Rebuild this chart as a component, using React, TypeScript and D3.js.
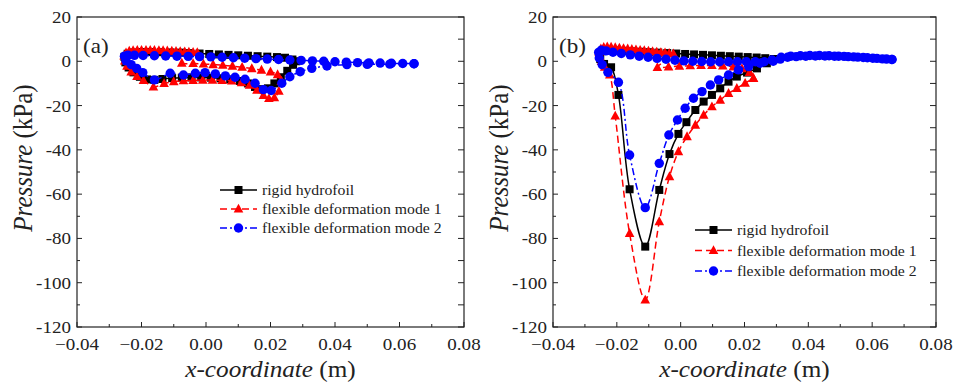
import React from 'react';
import * as d3 from 'd3';

type Pt = [number, number];

// each series runs round the foil: upper surface from the trailing edge to the
// leading edge, then the lower surface back to the trailing edge  [x (m), p (kPa)]

// ---- panel (a)
const rigidA: Pt[] = [
  [0.0268, 0.8], [0.0245, 1.6], [0.022, 1.9], [0.019, 2.1], [0.016, 2.3], [0.013, 2.5], [0.010, 2.7],
  [0.007, 2.9], [0.004, 3.1], [0.001, 3.3], [-0.002, 3.5], [-0.005, 3.7], [-0.008, 3.9], [-0.011, 4.0],
  [-0.014, 4.1], [-0.017, 4.2], [-0.020, 4.2], [-0.0225, 4.0], [-0.0243, 3.4], [-0.0253, 2.0],
  [-0.0250, -0.5], [-0.0240, -2.8], [-0.0225, -5.0], [-0.0205, -7.0], [-0.0183, -8.2], [-0.0160, -8.4],
  [-0.0135, -8.0], [-0.0105, -7.6], [-0.0075, -7.4], [-0.0045, -7.3], [-0.0015, -7.3], [0.0015, -7.4],
  [0.0045, -7.7], [0.0075, -8.2], [0.0105, -8.9], [0.0130, -10.0], [0.0152, -11.6], [0.0172, -12.6],
  [0.0192, -12.2], [0.0212, -10.0], [0.0232, -7.2], [0.0252, -4.3], [0.0270, -1.6], [0.0280, 0.0],
];

const mode1A: Pt[] = [
  [0.0234, -9.0], [0.0222, -6.0], [0.0200, -4.8], [0.0172, -4.0], [0.0142, -3.3], [0.0112, -2.7],
  [0.0082, -2.2], [0.0052, -1.8], [0.0022, -1.5], [-0.0008, -1.2], [-0.0040, -1.0], [-0.0075, -0.8],
  [-0.0027, 4.0], [-0.0040, 4.1], [-0.0053, 4.2], [-0.0066, 4.3], [-0.0080, 4.4], [-0.0093, 4.5],
  [-0.0106, 4.6], [-0.0120, 4.7], [-0.0133, 4.8], [-0.0146, 4.9], [-0.0160, 5.0], [-0.0173, 5.0],
  [-0.0186, 5.0], [-0.0200, 5.0], [-0.0213, 5.0], [-0.0226, 4.9], [-0.0238, 4.6], [-0.0248, 3.8],
  [-0.0254, 2.4],
  [-0.0252, 0.2], [-0.0245, -2.2], [-0.0232, -4.8], [-0.0214, -6.8], [-0.0194, -8.6], [-0.0163, -11.6],
  [-0.0130, -10.0], [-0.0100, -9.2], [-0.0070, -8.8], [-0.0040, -8.6], [-0.0010, -8.5], [0.0020, -8.5],
  [0.0050, -8.6], [0.0080, -8.9], [0.0110, -9.6], [0.0135, -10.8], [0.0158, -13.0], [0.0178, -15.4],
  [0.0195, -16.8], [0.0212, -16.4], [0.0226, -13.5], [0.0234, -9.0],
];

const mode2A: Pt[] = [
  [0.0645, -1.1], [0.0610, -1.0], [0.0575, -0.9], [0.0540, -0.8], [0.0505, -0.7], [0.0470, -0.6],
  [0.0435, -0.4], [0.0400, -0.2], [0.0365, 0.0], [0.0330, 0.2], [0.0295, 0.4], [0.0260, 0.6],
  [0.0225, 0.8], [0.0190, 1.0], [0.0155, 1.2], [0.0120, 1.4], [0.0085, 1.6], [0.0050, 1.8],
  [0.0015, 2.0], [-0.0020, 2.1], [-0.0055, 2.2], [-0.0090, 2.3], [-0.0125, 2.4], [-0.0160, 2.5],
  [-0.0195, 2.6], [-0.0222, 2.7], [-0.0242, 2.8], [-0.0253, 2.3],
  [-0.0248, 0.2], [-0.0232, -1.5], [-0.0215, -3.2], [-0.0196, -5.1], [-0.0160, -8.4], [-0.0111, -5.4],
  [-0.0070, -6.2], [-0.0033, -5.4], [-0.0003, -5.1], [0.0029, -5.7], [0.0060, -6.6], [0.0090, -7.2],
  [0.0121, -8.1], [0.0152, -9.9], [0.0178, -12.8], [0.0202, -13.2], [0.0235, -9.9], [0.0260, -7.0],
  [0.0292, -4.7], [0.0328, -3.2], [0.0375, -2.1], [0.0437, -1.5], [0.0500, -1.4], [0.0570, -1.3],
  [0.0645, -1.1],
];

// ---- panel (b)
const rigidB: Pt[] = [
  [0.0292, 1.0], [0.0265, 1.4], [0.0238, 1.7], [0.0210, 1.9], [0.0182, 2.1], [0.0154, 2.3], [0.0126, 2.5],
  [0.0098, 2.7], [0.0070, 2.9], [0.0042, 3.1], [0.0014, 3.3], [-0.0014, 3.5], [-0.0042, 3.7], [-0.0070, 3.9],
  [-0.0098, 4.1], [-0.0126, 4.3], [-0.0154, 4.5], [-0.0182, 4.7], [-0.0208, 4.9], [-0.0230, 5.0],
  [-0.0246, 4.6], [-0.0255, 3.2],
  [-0.0252, 1.0], [-0.0240, -1.2], [-0.0218, -2.7], [-0.0195, -15.2], [-0.0160, -57.8], [-0.0111, -83.7],
  [-0.0067, -58.1], [-0.0035, -41.9], [-0.0007, -32.8], [0.0018, -27.5], [0.0046, -22.0], [0.0072, -18.2],
  [0.0098, -15.2], [0.0124, -12.2], [0.0150, -9.2], [0.0176, -6.9], [0.0208, -5.1], [0.0239, -3.2],
  [0.0270, -0.9], [0.0292, 1.0],
];

const mode1B: Pt[] = [
  [0.0228, -7.7], [0.0216, -5.0], [0.0192, -3.3], [0.0165, -2.5], [0.0132, -2.1], [0.0098, -1.9],
  [0.0064, -1.9], [0.0030, -2.0], [-0.0004, -2.2], [-0.0038, -2.5], [-0.0073, -2.8],
  [-0.0023, 3.4], [-0.0036, 3.6], [-0.0049, 3.8], [-0.0062, 4.0], [-0.0075, 4.2], [-0.0088, 4.4],
  [-0.0101, 4.6], [-0.0114, 4.8], [-0.0127, 5.0], [-0.0140, 5.2], [-0.0153, 5.4], [-0.0166, 5.6],
  [-0.0179, 5.8], [-0.0192, 6.0], [-0.0205, 6.2], [-0.0218, 6.4], [-0.0230, 6.5], [-0.0241, 6.3],
  [-0.0250, 5.6], [-0.0256, 4.2],
  [-0.0254, 2.2], [-0.0248, 0.0], [-0.0238, -2.6], [-0.0222, -6.2], [-0.0205, -24.7], [-0.0160, -77.7],
  [-0.0111, -107.8], [-0.0067, -72.4], [-0.0035, -52.1], [-0.0007, -40.8], [0.0020, -34.0],
  [0.0046, -28.8], [0.0072, -24.3], [0.0098, -20.5], [0.0124, -17.5], [0.0150, -14.5], [0.0176, -12.2],
  [0.0202, -9.9], [0.0228, -7.7],
];

const mode2B: Pt[] = [
  [0.0662, 0.8], [0.0632, 1.1], [0.0602, 1.4], [0.0572, 1.7], [0.0542, 2.0], [0.0512, 2.2], [0.0482, 2.3],
  [0.0452, 2.4], [0.0422, 2.4], [0.0392, 2.3], [0.0362, 2.1], [0.0335, 1.8], [0.0312, 1.0], [0.0290, 0.0],
  [0.0262, -0.2], [0.0234, -0.2], [0.0206, -0.2], [0.0178, -0.2], [0.0150, -0.2], [0.0122, -0.2],
  [0.0094, -0.2], [0.0066, -0.1], [0.0038, 0.0], [0.0010, 0.2], [-0.0018, 0.5], [-0.0046, 0.9],
  [-0.0074, 1.3], [-0.0102, 1.8], [-0.0130, 2.3], [-0.0158, 2.9], [-0.0186, 3.5], [-0.0212, 4.1],
  [-0.0234, 4.7], [-0.0249, 5.0], [-0.0257, 4.0],
  [-0.0255, 1.5], [-0.0246, -1.5], [-0.0228, -5.0], [-0.0195, -9.5], [-0.0160, -42.3], [-0.0111, -66.1],
  [-0.0067, -46.1], [-0.0037, -33.3], [-0.0010, -26.5], [0.0014, -21.2], [0.0040, -16.7], [0.0067, -13.7],
  [0.0093, -10.7], [0.0119, -8.4], [0.0150, -6.2], [0.0181, -3.9], [0.0213, -2.4], [0.0249, -0.9],
  [0.0286, 0.6], [0.0315, 1.8], [0.0345, 2.3], [0.0375, 2.5], [0.0405, 2.6], [0.0435, 2.6], [0.0465, 2.5],
  [0.0495, 2.3], [0.0525, 2.1], [0.0555, 1.9], [0.0585, 1.6], [0.0615, 1.3], [0.0645, 1.0], [0.0662, 0.8],
];

const seriesNames = ['rigid hydrofoil', 'flexible deformation mode 1', 'flexible deformation mode 2'];
const xTicks = [-0.04, -0.02, 0, 0.02, 0.04, 0.06, 0.08];
const xMinor = [-0.03, -0.01, 0.01, 0.03, 0.05, 0.07];
const yTicks = [20, 0, -20, -40, -60, -80, -100, -120];
const yMinor = [10, -10, -30, -50, -70, -90, -110];

const W = 954;
const H = 383;
const TOP = 17;
const BOTTOM = 327;
const FONT = 'Liberation Serif, Tinos, Times New Roman, serif';
const INK = '#222';

const styles = [
  { color: '#000', dash: undefined as string | undefined, marker: 'square' },
  { color: '#ff0000', dash: '7 4', marker: 'triangle' },
  { color: '#0000ff', dash: '7 3 2 3', marker: 'circle' },
];

function Marker({ kind, x, y, color }: { kind: string; x: number; y: number; color: string }) {
  if (kind === 'square') return <rect x={x - 4} y={y - 4} width={8} height={8} fill={color} />;
  if (kind === 'triangle')
    return <path d={`M${x},${y - 5.3}L${x + 4.8},${y + 3.6}L${x - 4.8},${y + 3.6}Z`} fill={color} />;
  return <circle cx={x} cy={y} r={4.7} fill={color} />;
}

function Panel({ left, right, label, series, legend }: {
  left: number; right: number; label: string; series: Pt[][];
  legend: { x: number; y: number; gap: number };
}) {
  const x = d3.scaleLinear().domain([-0.04, 0.08]).range([left, right]);
  const y = d3.scaleLinear().domain([-120, 20]).range([BOTTOM, TOP]);
  const line = d3.line<Pt>().x(d => x(d[0])).y(d => y(d[1])).curve(d3.curveCatmullRom.alpha(0.5));
  const mid = (left + right) / 2;
  const txt = { fontFamily: FONT };

  return (
    <g>
      {series.map((pts, i) => (
        <g key={i}>
          <path d={line(pts) ?? ''} fill="none" stroke={styles[i].color} strokeWidth={1.5}
            strokeDasharray={styles[i].dash} />
          {pts.map((p, j) => (
            <Marker key={j} kind={styles[i].marker} x={x(p[0])} y={y(p[1])} color={styles[i].color} />
          ))}
        </g>
      ))}

      {/* frame */}
      <rect x={left} y={TOP} width={right - left} height={BOTTOM - TOP} fill="none" stroke={INK} strokeWidth={1.2} />
      {xTicks.map(t => <line key={'xt' + t} x1={x(t)} x2={x(t)} y1={BOTTOM} y2={BOTTOM - 5} stroke={INK} />)}
      {xMinor.map(t => <line key={'xm' + t} x1={x(t)} x2={x(t)} y1={BOTTOM} y2={BOTTOM - 3} stroke={INK} />)}
      {yTicks.map(t => (
        <g key={'yt' + t}>
          <line x1={left} x2={left + 5} y1={y(t)} y2={y(t)} stroke={INK} />
          <line x1={right} x2={right - 6} y1={y(t)} y2={y(t)} stroke={INK} />
        </g>
      ))}
      {yMinor.map(t => (
        <g key={'ym' + t}>
          <line x1={left} x2={left + 3} y1={y(t)} y2={y(t)} stroke={INK} />
          <line x1={right} x2={right - 6} y1={y(t)} y2={y(t)} stroke={INK} />
        </g>
      ))}

      {/* tick labels */}
      {xTicks.map(t => (
        <text key={'xl' + t} transform={`translate(${x(t)},350) scale(1.12,1)`} textAnchor="middle"
          fontSize={17} style={txt} fill={INK}>{d3.format('.2f')(t)}</text>
      ))}
      {yTicks.map(t => (
        <text key={'yl' + t} transform={`translate(${left - 6},${y(t) + 6}) scale(1.12,1)`} textAnchor="end"
          fontSize={17} style={txt} fill={INK}>{t}</text>
      ))}

      {/* axis titles */}
      <text transform={`translate(${mid},377) scale(1.05,1)`} textAnchor="middle" fontSize={24} style={txt} fill={INK}>
        <tspan fontStyle="italic">x-coordinate</tspan> (m)
      </text>
      <text transform={`translate(${left - 45},158) scale(1.08,1) rotate(-90)`} textAnchor="middle" fontSize={25}
        style={txt} fill={INK}>
        <tspan fontStyle="italic">Pressure</tspan> (kPa)
      </text>

      <text transform={`translate(${left + 6},53) scale(1.1,1)`} fontSize={21} style={txt} fill={INK}>{label}</text>

      {/* legend */}
      {seriesNames.map((name, i) => {
        const ly = legend.y + i * legend.gap;
        const cx = legend.x + 18.5;
        return (
          <g key={name}>
            <line x1={legend.x} x2={legend.x + 37} y1={ly} y2={ly} stroke={styles[i].color} strokeWidth={1.5}
              strokeDasharray={styles[i].dash} />
            <Marker kind={styles[i].marker} x={cx} y={ly} color={styles[i].color} />
            <text transform={`translate(${legend.x + 42},${ly + 5}) scale(1.05,1)`} fontSize={15}
              style={txt} fill={INK}>{name}</text>
          </g>
        );
      })}
    </g>
  );
}

export default function App() {
  return (
    <svg width={W} height={H} style={{ position: 'absolute', left: 0, top: 0, background: '#fff' }}>
      <Panel left={77} right={464} label="(a)" series={[rigidA, mode1A, mode2A]}
        legend={{ x: 220, y: 190, gap: 19 }} />
      <Panel left={553} right={936} label="(b)" series={[rigidB, mode1B, mode2B]}
        legend={{ x: 695, y: 230, gap: 20.5 }} />
    </svg>
  );
}
